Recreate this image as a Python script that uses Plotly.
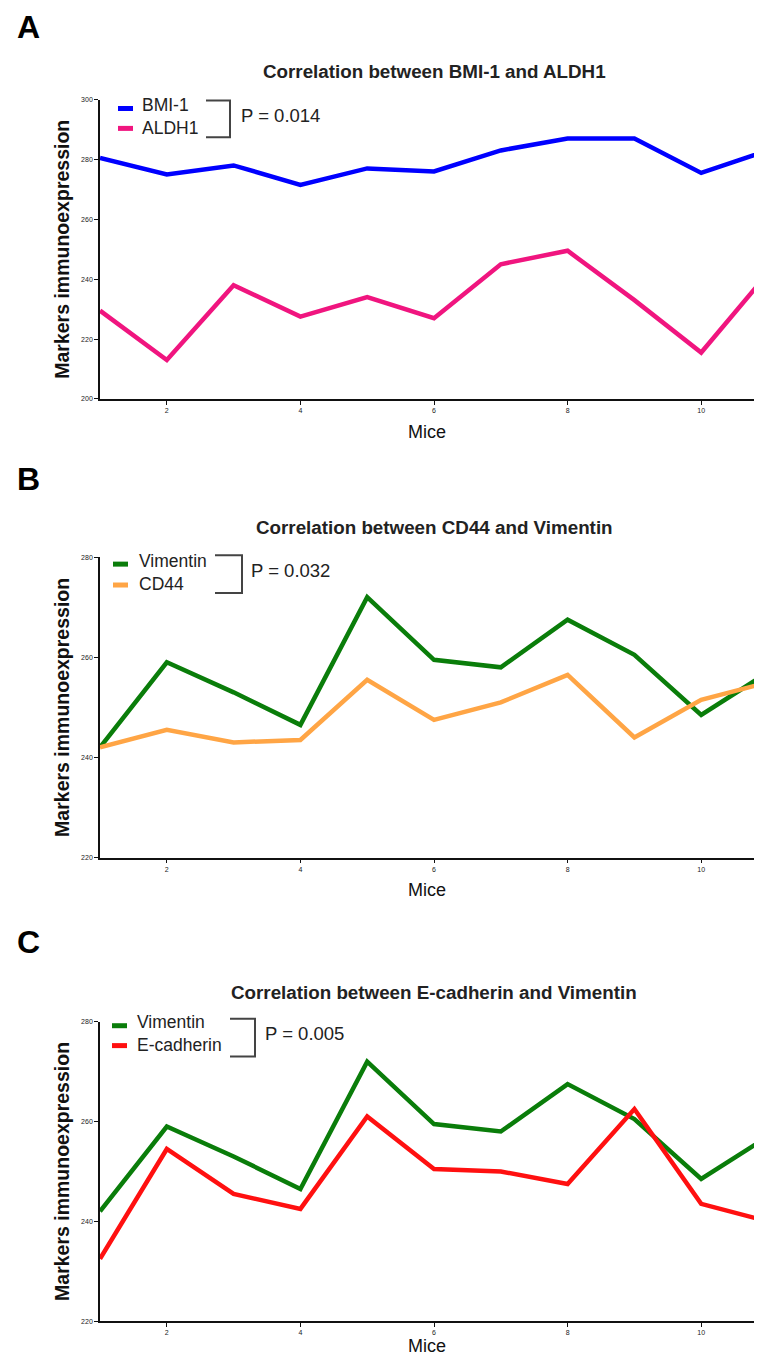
import plotly.graph_objects as go

# ---------------- data ----------------
mice = [1, 2, 3, 4, 5, 6, 7, 8, 9, 10, 11]
bmi1 = [280.5, 275, 278, 271.5, 277, 276, 283, 287, 287, 275.5, 283]
aldh1 = [229.5, 213, 238, 227.5, 234, 227, 245, 249.5, 233, 215.5, 242]
vimentin = [242, 259, 253, 246.5, 272, 259.5, 258, 267.5, 260.5, 248.5, 257]
cd44 = [242, 245.5, 243, 243.5, 255.5, 247.5, 251, 256.5, 244, 251.5, 255]
ecadherin = [232.5, 254.5, 245.5, 242.5, 261, 250.5, 250, 247.5, 262.5, 243.5, 240]

x_ticks = [2, 4, 6, 8, 10]
y_ticks_a = [200, 220, 240, 260, 280, 300]
y_ticks_bc = [220, 240, 260, 280]

panel_letters = ["A", "B", "C"]
titles = ["Correlation between BMI-1 and ALDH1",
          "Correlation between CD44 and Vimentin",
          "Correlation between E-cadherin and Vimentin"]
p_values = ["P = 0.014", "P = 0.032", "P = 0.005"]

C_BLUE = "#0000FF"
C_PINK = "#F0157F"
C_GREEN = "#0A7D0A"
C_ORANGE = "#FFA545"
C_RED = "#FF1010"

# positions below are in page pixels of the target picture
panels = [
    dict(series=[("BMI-1", bmi1, C_BLUE), ("ALDH1", aldh1, C_PINK)],
         yrange=[200, 300], yticks=y_ticks_a, top=96, bottom=397,
         letter_y=27, title_y=70, mice_standoff=12,
         leg=dict(dash_x=(118, 133), text_x=140, rows=(105, 125),
                  br=(206, 230, 97, 134), p_x=239, p_y=115)),
    dict(series=[("Vimentin", vimentin, C_GREEN), ("CD44", cd44, C_ORANGE)],
         yrange=[220, 280], yticks=y_ticks_bc, top=556, bottom=858,
         letter_y=481, title_y=528, mice_standoff=12,
         leg=dict(dash_x=(113, 128), text_x=137, rows=(563, 584),
                  br=(215, 242, 554, 592), p_x=249, p_y=572)),
    dict(series=[("Vimentin", vimentin, C_GREEN), ("E-cadherin", ecadherin, C_RED)],
         yrange=[220, 280], yticks=y_ticks_bc, top=1023, bottom=1324,
         letter_y=947, title_y=996, mice_standoff=2,
         leg=dict(dash_x=(112, 127), text_x=135, rows=(1027, 1047),
                  br=(230, 255, 1020, 1058), p_x=263, p_y=1038)),
]

OFF = 8            # default page margin around the figure
W, H = 746, 1349   # fits inside the window without scrollbars
FONT = "Liberation Sans, Arial, sans-serif"


def px(x, y):
    return (x - OFF) / W, 1 - (y - OFF) / H


x_left = (100 - OFF) / W
x_end = 1 + (W + OFF - 100) / 66.8

fig = go.Figure()
annotations = []
shapes = []
layout_axes = {}

for i, p in enumerate(panels):
    n = "" if i == 0 else str(i + 1)
    xa, ya = "x" + n, "y" + n
    for name, vals, col in p["series"]:
        fig.add_trace(go.Scatter(x=mice, y=vals, mode="lines", name=name,
                                 line=dict(color=col, width=4.5),
                                 xaxis=xa, yaxis=ya, showlegend=False))
    common = dict(showline=True, linecolor="#111111", linewidth=1.6,
                  ticks="outside", ticklen=4, tickwidth=1.4, tickcolor="#111111",
                  showgrid=False, zeroline=False,
                  tickfont=dict(size=7, color="#222222", family=FONT))
    layout_axes["xaxis" + n] = dict(
        common, domain=[x_left, 1], range=[1, x_end], tickvals=x_ticks,
        anchor=ya,
        title=dict(text="Mice", font=dict(size=18, color="#111111", family=FONT),
                   standoff=p["mice_standoff"]))
    layout_axes["yaxis" + n] = dict(
        common, domain=[1 - (p["bottom"] - OFF) / H, 1 - (p["top"] - OFF) / H],
        range=p["yrange"], tickvals=p["yticks"], anchor=xa,
        title=dict(text="<b>Markers immunoexpression</b>",
                   font=dict(size=19.5, color="#111111", family=FONT),
                   standoff=6))

    # panel letter
    lx, ly = px(28, p["letter_y"] - 4)
    annotations.append(dict(text="<b>%s</b>" % panel_letters[i], x=lx, y=ly,
                            xref="paper", yref="paper", showarrow=False,
                            xanchor="center", yanchor="middle",
                            font=dict(size=32, color="#000000", family=FONT)))
    # title
    tx, ty = px(434, p["title_y"] - 2)
    annotations.append(dict(text="<b>%s</b>" % titles[i], x=tx, y=ty,
                            xref="paper", yref="paper", showarrow=False,
                            xanchor="center", yanchor="middle",
                            font=dict(size=18.8, color="#222222", family=FONT)))
    # custom legend: colour dashes + names + bracket + p value
    lg = p["leg"]
    for (name, vals, col), ry in zip(p["series"], lg["rows"]):
        x0, y0 = px(lg["dash_x"][0], ry)
        x1, _ = px(lg["dash_x"][1], ry)
        shapes.append(dict(type="line", xref="paper", yref="paper",
                           x0=x0, x1=x1, y0=y0, y1=y0,
                           line=dict(color=col, width=5)))
    names = "<br>".join(s[0] for s in p["series"])
    tx, ty = px(lg["text_x"], (lg["rows"][0] + lg["rows"][1]) / 2 - 2)
    annotations.append(dict(text=names, x=tx, y=ty, xref="paper", yref="paper",
                            showarrow=False, xanchor="left", yanchor="middle",
                            align="left",
                            font=dict(size=17.5, color="#222222", family=FONT)))
    bx0, bx1, by0, by1 = lg["br"]
    a0 = px(bx0, by0)
    a1 = px(bx1, by0)
    a2 = px(bx1, by1)
    a3 = px(bx0, by1)
    shapes.append(dict(type="path", xref="paper", yref="paper",
                       path="M %f %f L %f %f L %f %f L %f %f" % (a0 + a1 + a2 + a3),
                       line=dict(color="#444444", width=2)))
    tx, ty = px(lg["p_x"], lg["p_y"] - 3)
    annotations.append(dict(text=p_values[i], x=tx, y=ty, xref="paper", yref="paper",
                            showarrow=False, xanchor="left", yanchor="middle",
                            font=dict(size=18.5, color="#222222", family=FONT)))

fig.update_layout(
    width=W, height=H,
    margin=dict(l=0, r=0, t=0, b=0),
    paper_bgcolor="white", plot_bgcolor="white",
    font=dict(family=FONT),
    annotations=annotations, shapes=shapes,
    **layout_axes)

fig.write_html("out.html")
